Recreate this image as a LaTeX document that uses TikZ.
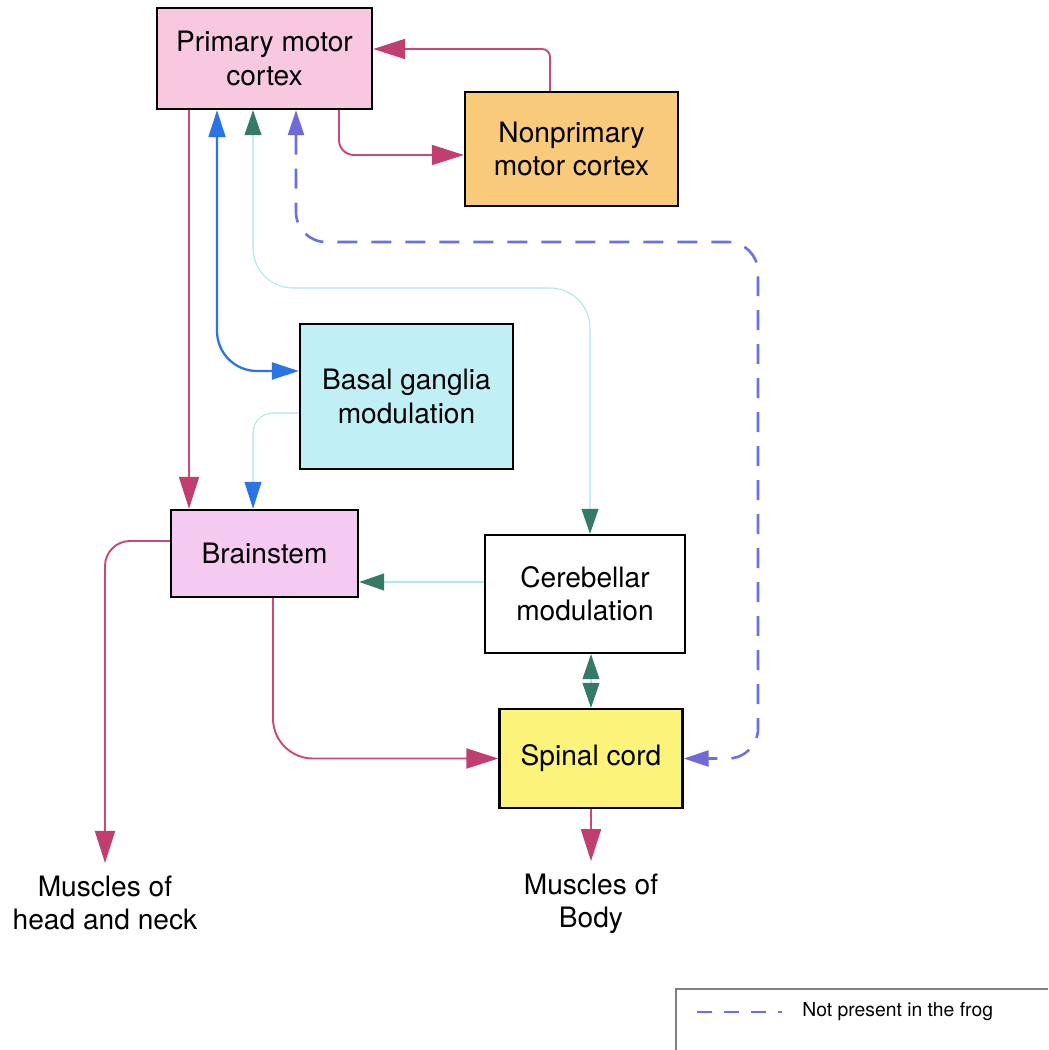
\documentclass[tikz,border=0pt]{standalone}
\usepackage{fontspec}
\setmainfont{TeX Gyre Heros}
\usetikzlibrary{arrows.meta}
\definecolor{pmcfill}{RGB}{247,200,224}
\definecolor{npmcfill}{RGB}{248,202,122}
\definecolor{bgmfill}{RGB}{192,240,246}
\definecolor{brsfill}{RGB}{244,202,240}
\definecolor{spcfill}{RGB}{252,244,122}
\definecolor{magline}{RGB}{205,72,122}
\definecolor{maghead}{RGB}{192,62,112}
\definecolor{blueline}{RGB}{42,116,230}
\definecolor{tealhead}{RGB}{52,122,102}
\definecolor{paleline}{RGB}{178,228,234}
\definecolor{frogline}{RGB}{108,112,232}
\definecolor{froghead}{RGB}{112,106,216}
\tikzset{
  box/.style = {draw, line width=1.4pt, align=center, inner sep=0,
    font=\fontsize{16}{19}\selectfont},
  muscle/.style = {align=center, inner sep=0.25cm, font=\fontsize{16}{19}\selectfont},
  maghd/.tip = {Triangle[length=0.64cm, width=0.4cm, color=maghead]},
  bluehd/.tip = {Triangle[length=0.54cm, width=0.34cm, color=blueline]},
  tealhd/.tip = {Triangle[length=0.5cm, width=0.34cm, color=tealhead]},
  froghd/.tip = {Triangle[length=0.5cm, width=0.32cm, color=froghead]},
  mag/.style = {draw=magline, line width=1.1pt, -maghd},
  bluelink/.style = {draw=blueline, line width=1.3pt, bluehd-bluehd},
  bluepale/.style = {draw=paleline, line width=0.6pt, -bluehd},
  tealpale/.style = {draw=paleline, line width=0.6pt, -tealhd},
  tealboth/.style = {draw=paleline, line width=0.6pt, tealhd-tealhd},
  frog/.style = {draw=frogline, line width=1.5pt, dash pattern=on 0.4cm off 0.28cm,
    froghd-froghd}
}
\begin{document}
\begin{tikzpicture}[x=0.02cm, y=-0.02cm]
  \useasboundingbox (0,0) rectangle (1048,1050);

  \node [box, fill=pmcfill, minimum width=4.3cm, minimum height=2.02cm] (pmc) at (264.5,58.5) {Primary motor\\cortex};
  \node [box, fill=npmcfill, minimum width=4.26cm, minimum height=2.28cm] (npmc) at (571.5,149) {Nonprimary\\motor cortex};
  \node [box, fill=bgmfill, minimum width=4.26cm, minimum height=2.9cm] (bgm) at (406.5,396.5) {Basal ganglia\\modulation};
  \node [box, fill=brsfill, minimum width=3.74cm, minimum height=1.74cm] (brs) at (264.5,553.5) {Brainstem};
  \node [box, fill=white, minimum width=4cm, minimum height=2.36cm] (cbm) at (585,594) {Cerebellar\\modulation};
  \node [box, fill=spcfill, minimum width=3.66cm, minimum height=1.98cm] (spc) at (591,758.5) {Spinal cord};
  \node [muscle] (hnm) at (105,903) {Muscles of\\head and neck};
  \node [muscle] (bdm) at (591,904) {Muscles of\\Body};

  \draw [mag, rounded corners=0.16cm] ([xshift=-0.43cm]npmc.north) |- ([yshift=0.19cm]pmc.east);
  \draw [mag, rounded corners=0.3cm] ([xshift=1.49cm]pmc.south) |- ([yshift=-0.12cm]npmc.west);
  \draw [mag] ([xshift=-1.51cm]pmc.south) -- ([xshift=-1.51cm]brs.north);
  \draw [bluelink, rounded corners=0.8cm] ([xshift=-0.95cm]pmc.south) |- ([yshift=0.51cm]bgm.west);
  \draw [bluepale, rounded corners=0.4cm] ([yshift=-0.33cm]bgm.west) -| ([xshift=-0.23cm]brs.north);

  \coordinate (cbmbend) at (420,288);
  \draw [tealboth, rounded corners=0.8cm] ([xshift=-0.23cm]pmc.south) |- (cbmbend) -| ([xshift=0.1cm]cbm.north);
  \coordinate (frogbend) at (758,242);
  \draw [frog, rounded corners=0.6cm] ([xshift=0.63cm]pmc.south) |- (frogbend) |- (spc.east);

  \draw [tealpale] ([yshift=0.24cm]cbm.west) -- ([yshift=0.24cm]cbm.west -| brs.east);
  \draw [tealboth] ([xshift=0.12cm]cbm.south) -- ([xshift=0.12cm]cbm.south |- spc.north);
  \draw [mag, rounded corners=0.8cm] ([xshift=0.17cm]brs.south) |- (spc.west);
  \draw [mag, rounded corners=0.5cm] ([yshift=0.25cm]brs.west) -| (hnm.north);
  \draw [mag] (spc.south) -- (bdm.north);

  \draw [gray, line width=0.6pt] (676,1050) |- (1048,989);
  \draw [draw=frogline, line width=0.8pt, dash pattern=on 0.3cm off 0.24cm] (697,1012) -- (782,1012);
  \node [anchor=west, inner sep=0, font=\fontsize{11}{13}\selectfont] (frogkey) at (802,1012) {Not present in the frog};
\end{tikzpicture}
\end{document}
